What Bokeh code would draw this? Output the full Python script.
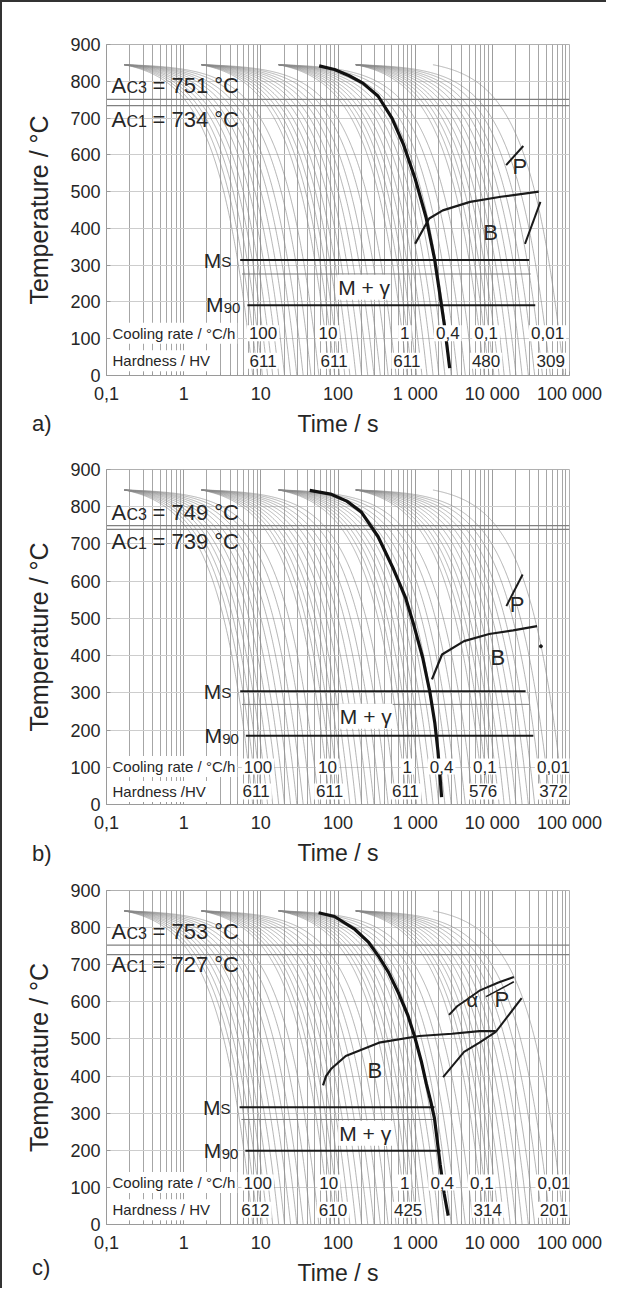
import numpy as np
from bokeh.plotting import figure
from bokeh.models import FixedTicker, Label, Range1d, Div
from bokeh.layouts import column
from bokeh.embed import file_html
from bokeh.resources import INLINE

# ---------------- data ----------------
x_ticks = [0.1, 1, 10, 100, 1000, 10000, 100000]
x_tick_labels = ["0,1", "1", "10", "100", "1 000", "10 000", "100 000"]
y_ticks = [0, 100, 200, 300, 400, 500, 600, 700, 800, 900]

# grey cooling curves: start time (s) of each family, start temperature, cooling rates
family_start_time = [0.17, 1.7, 17, 170, 1700]
family_start_temp = 845
family_rates = [
    [110, 95, 82, 70, 60, 50, 42, 35, 29, 24, 19, 15],
    [11, 9.5, 8.2, 7.0, 6.0, 5.0, 4.2, 3.5, 2.9, 2.4, 1.9, 1.5],
    [1.1, 0.95, 0.82, 0.70, 0.60, 0.50, 0.42, 0.35, 0.29, 0.24, 0.19, 0.15],
    [0.11, 0.095, 0.082, 0.070, 0.060, 0.050, 0.042, 0.035, 0.029, 0.024, 0.019, 0.015],
    [0.0102],
]

# ---- panel a ----
a_ac = [751, 734]
a_ac_text = ["751", "734"]
a_ms = [314, 276, 191]                       # Ms, M50 (thin), M90
a_ms_start = [5.4, 5.7, 6.7]
a_ms_end = [30000, 31500, 36000]
a_bold_t = [57, 90, 140, 210, 330, 500, 700, 1000, 1380, 1780, 2050, 2400, 2800]
a_bold_T = [842, 832, 815, 795, 760, 700, 630, 535, 431, 318, 232, 135, 20]
a_B_t = [1000, 1250, 1520, 2280, 5150, 12900, 40000]
a_B_T = [358, 395, 427, 449, 472, 486, 500]
a_P1_t = [15100, 25200]
a_P1_T = [572, 624]
a_P2_t = [26500, 42000]
a_P2_T = [358, 472]
a_rate_text = ["100", "10", "1", "0,4", "0,1", "0,01"]
a_rate_t = [10.7, 74, 735, 2650, 8300, 52000]
a_hv_text = ["611", "611", "611", "480", "309"]
a_hv_t = [10.7, 89, 780, 8300, 57000]

# ---- panel b ----
b_ac = [749, 739]
b_ac_text = ["749", "739"]
b_ms = [304, 269, 185]
b_ms_start = [5.4, 5.7, 6.4]
b_ms_end = [27000, 30000, 34000]
b_bold_t = [43, 80, 130, 200, 330, 525, 750, 955, 1250, 1545, 1800, 1970, 2100, 2200]
b_bold_T = [844, 834, 815, 786, 720, 632, 556, 484, 395, 304, 218, 145, 75, 20]
b_B_t = [1650, 2230, 4300, 9100, 18600, 38000]
b_B_T = [336, 403, 439, 458, 468, 479]
b_P_t = [15200, 24700]
b_P_T = [533, 618]
b_dot_t = [42600]
b_dot_T = [425]
b_rate_text = ["100", "10", "1", "0,4", "0,1", "0,01"]
b_rate_t = [9.2, 73, 790, 2200, 8000, 62000]
b_hv_text = ["611", "611", "611", "576", "372"]
b_hv_t = [8.7, 78, 750, 7600, 62000]

# ---- panel c ----
c_ac = [753, 727]
c_ac_text = ["753", "727"]
c_ms = [316, 283, 199]
c_ms_start = [5.3, 5.6, 6.3]
c_ms_end = [1780, 1780, 2130]
c_bold_t = [56, 90, 166, 250, 338, 450, 610, 800, 980, 1200, 1400, 1600, 1780, 2110, 2380, 2680]
c_bold_T = [840, 830, 795, 760, 722, 680, 623, 565, 508, 440, 378, 330, 286, 162, 82, 24]
c_B_t = [64, 70, 81, 126, 340, 1130, 3000, 6800, 11100]
c_B_T = [375, 400, 419, 454, 490, 508, 514, 521, 521]
c_Plow_t = [2300, 4300, 6800, 11100]
c_Plow_T = [397, 465, 490, 519]
c_Pup_t = [11100, 24000]
c_Pup_T = [519, 610]
c_alpha_t = [2750, 3500, 4600, 6800, 12000, 19000]
c_alpha_T = [565, 588, 605, 630, 652, 667]
c_aP_t = [8300, 19000]
c_aP_T = [614, 654]
c_rate_text = ["100", "10", "1", "0,4", "0,1", "0,01"]
c_rate_t = [9.1, 76, 730, 2240, 7300, 63000]
c_hv_text = ["612", "610", "425", "314", "201"]
c_hv_t = [8.5, 86, 810, 8700, 63000]

panel_tags = ["a)", "b)", "c)"]

# ---------------- style ----------------
FONT = "Liberation Sans"
TXT = "#262626"


def lab(p, text, x, y, size, align="left", baseline="middle", dx=0, dy=0,
        bg=False, alpha=1.0, pad=1):
    L = Label(x=x, y=y, text=text, text_font=FONT, text_font_size=f"{size}px",
              text_align=align, text_baseline=baseline, x_offset=dx, y_offset=dy,
              text_color=TXT, text_alpha=alpha)
    if bg:
        L.background_fill_color = "white"
        L.padding = pad
    p.add_layout(L)


def make_panel(height, btop, bbot, ac, ac_text, ac_lab_T, ms, ms_start, ms_end,
               bold_t, bold_T, lines, texts, rate_T, rate_t, rate_text,
               hv_T, hv_t, hv_text, hv_title):
    p = figure(width=604, height=height, x_axis_type="log",
               x_range=Range1d(0.1, 100000), y_range=Range1d(0, 900),
               output_backend="svg", toolbar_location=None,
               min_border_left=104, min_border_right=37,
               min_border_top=btop, min_border_bottom=bbot)
    p.background_fill_color = "white"
    p.border_fill_color = "white"
    p.outline_line_color = "#b0b0b0"

    minors = [m * 10.0 ** k for k in range(-1, 5) for m in range(2, 10)]
    p.xaxis.ticker = FixedTicker(ticks=x_ticks, minor_ticks=minors)
    p.xaxis.major_label_overrides = {t: s for t, s in zip(x_ticks, x_tick_labels)}
    p.yaxis.ticker = FixedTicker(ticks=y_ticks)
    for ax in (p.xaxis, p.yaxis):
        ax.major_label_text_font = FONT
        ax.major_label_text_font_size = "18px"
        ax.major_label_text_color = TXT
        ax.axis_label_text_font = FONT
        ax.axis_label_text_font_style = "normal"
        ax.axis_label_text_color = TXT
        ax.axis_line_color = "#9a9a9a"
        ax.major_tick_line_color = "#9a9a9a"
        ax.minor_tick_line_color = "#9a9a9a"
        ax.major_tick_in = 4
        ax.major_tick_out = 0
        ax.minor_tick_in = 3
        ax.minor_tick_out = 0
    p.xaxis.axis_label = "Time / s"
    p.xaxis.axis_label_text_font_size = "23px"
    p.xaxis.major_label_standoff = 8
    p.xaxis.axis_label_standoff = 4
    p.yaxis.axis_label = "Temperature / °C"
    p.yaxis.axis_label_text_font_size = "25px"
    p.yaxis.major_label_standoff = 6
    p.yaxis.axis_label_standoff = 14

    p.xgrid.grid_line_color = "#9c9c9c"
    p.xgrid.minor_grid_line_color = "#a6a6a6"
    p.xgrid.grid_line_width = 1
    p.ygrid.grid_line_color = "#cdcdcd"

    # grey cooling curves
    xs, ys = [], []
    for t0, rates in zip(family_start_time, family_rates):
        for r in rates:
            t = np.geomspace(t0, t0 + family_start_temp / r, 400)
            xs.append(t)
            ys.append(family_start_temp - r * (t - t0))
    p.multi_line(xs, ys, line_color="#8a8a8a", line_width=0.8, line_alpha=0.8)

    # Ac3 / Ac1
    for T in ac:
        p.line([0.1, 100000], [T, T], line_color="#808080", line_width=1.2)

    # Ms, M50, M90
    p.line([ms_start[0], ms_end[0]], [ms[0], ms[0]], line_color="#1a1a1a", line_width=2)
    p.line([ms_start[1], ms_end[1]], [ms[1], ms[1]], line_color="#7a7a7a", line_width=1)
    p.line([ms_start[2], ms_end[2]], [ms[2], ms[2]], line_color="#1a1a1a", line_width=2)

    # transformation lines
    for (lt, lT, w) in lines:
        p.line(lt, lT, line_color="#1a1a1a", line_width=w)
    # bold cooling curve
    p.line(bold_t, bold_T, line_color="#111111", line_width=3.2)

    # Ac labels (small-caps style "AC3")
    for T, txt, lT in zip(ac, ac_text, ac_lab_T):
        sub = "C3" if T == ac[0] else "C1"
        lab(p, f"AC3 = {txt} °C", 0.1, lT, 22, baseline="bottom", dx=3, bg=True, alpha=0, pad=1)
        lab(p, "A", 0.1, lT, 22, baseline="bottom", dx=5)
        lab(p, sub, 0.1, lT, 16, baseline="bottom", dx=20, dy=2)
        lab(p, f"= {txt} °C", 0.1, lT, 22, baseline="bottom", dx=46)

    # Ms / M90 labels
    lab(p, "MS", ms_start[0], ms[0], 21, align="right", baseline="bottom", dx=-8, dy=-12, bg=True, alpha=0, pad=1)
    lab(p, "S", ms_start[0], ms[0], 15, align="right", baseline="bottom", dx=-9, dy=-10)
    lab(p, "M", ms_start[0], ms[0], 21, align="right", baseline="bottom", dx=-19, dy=-12)
    lab(p, "M90", ms_start[2], ms[2], 21, align="right", baseline="bottom", dx=-6, dy=-11, bg=True, alpha=0, pad=1)
    lab(p, "90", ms_start[2], ms[2], 15, align="right", baseline="bottom", dx=-7, dy=-8)
    lab(p, "M", ms_start[2], ms[2], 21, align="right", baseline="bottom", dx=-24, dy=-11)

    # phase labels
    for (txt, tt, TT, size, bg) in texts:
        lab(p, txt, tt, TT, size, align="center", bg=bg, pad=1)

    # cooling rate / hardness rows
    lab(p, "Cooling rate / °C/h", 0.1, rate_T, 15, dx=4, bg=True, pad=2)
    for txt, tt in zip(rate_text, rate_t):
        lab(p, txt, tt, rate_T, 17, align="center", bg=True, pad=2)
    lab(p, hv_title, 0.1, hv_T, 15, dx=4, bg=True, pad=2)
    for txt, tt in zip(hv_text, hv_t):
        lab(p, txt, tt, hv_T, 17, align="center", bg=True, pad=2)
    return p


pa = make_panel(440, 42, 67, a_ac, a_ac_text, [754, 662], a_ms, a_ms_start, a_ms_end,
                a_bold_t, a_bold_T,
                [(a_B_t, a_B_T, 2.2), (a_P1_t, a_P1_T, 2), (a_P2_t, a_P2_T, 2)],
                [("P", 22800, 568, 22, False), ("B", 9500, 390, 22, False),
                 ("M + γ", 218, 240, 21, True)],
                115, a_rate_t, a_rate_text, 40, a_hv_t, a_hv_text, "Hardness / HV")

pb = make_panel(430, 27, 68, b_ac, b_ac_text, [752, 672], b_ms, b_ms_start, b_ms_end,
                b_bold_t, b_bold_T,
                [(b_B_t, b_B_T, 2.2), (b_P_t, b_P_T, 2)],
                [("P", 21000, 537, 22, False), ("B", 11800, 395, 22, False),
                 ("M + γ", 229, 237, 21, True)],
                102, b_rate_t, b_rate_text, 35, b_hv_t, b_hv_text, "Hardness /HV")
pb.scatter(b_dot_t, b_dot_T, size=3, color="#1a1a1a")

pc = make_panel(416, 18, 60, c_ac, c_ac_text, [755, 668], c_ms, c_ms_start, c_ms_end,
                c_bold_t, c_bold_T,
                [(c_B_t, c_B_T, 2.2), (c_Plow_t, c_Plow_T, 2), (c_Pup_t, c_Pup_T, 2),
                 (c_alpha_t, c_alpha_T, 2), (c_aP_t, c_aP_T, 1.6)],
                [("α", 5500, 605, 20, False), ("P", 13300, 605, 22, False),
                 ("B", 300, 415, 22, False), ("M + γ", 225, 246, 21, True)],
                113, c_rate_t, c_rate_text, 40, c_hv_t, c_hv_text, "Hardness / HV")

tag_tops = [404, 834, 1248]
tags = [Div(text=t, width=24, height=1,
            styles={"position": "absolute", "left": "25px", "top": f"{top}px",
                    "font-family": "Liberation Sans, sans-serif", "font-size": "22px",
                    "color": TXT, "line-height": "25px", "overflow": "visible",
                    "z-index": "5"})
        for t, top in zip(panel_tags, tag_tops)]

layout = column(pa, pb, pc, *tags,
                styles={"border-left": "2px solid #333333",
                        "border-top": "2px solid #333333"})
open("out.html", "w").write(file_html(layout, INLINE))
